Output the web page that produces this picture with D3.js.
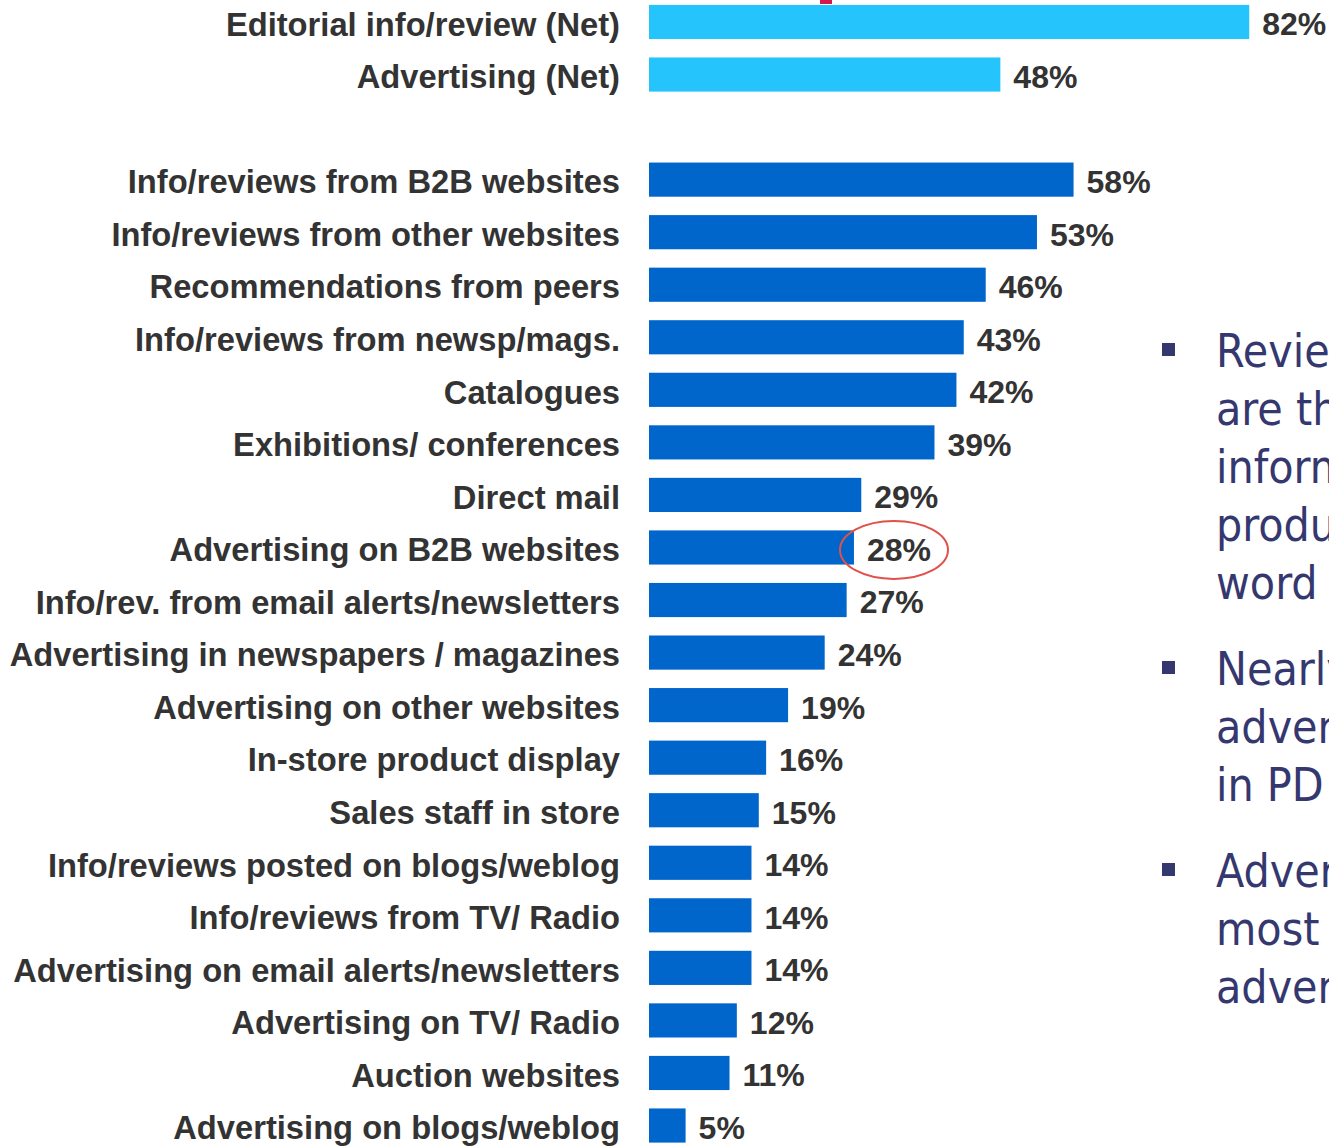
<!DOCTYPE html>
<html>
<head>
<meta charset="utf-8">
<script src="https://cdn.jsdelivr.net/npm/d3@7"></script>
<style>
  html, body { margin: 0; padding: 0; background: #fff; }
  svg { display: block; overflow: hidden; }
</style>
</head>
<body>
<svg id="chart" width="1329" height="1146"></svg>
<script>
// Net totals shown first, then the individual sources
const netCategories = ["Editorial info/review (Net)", "Advertising (Net)"];
const netValues = [82, 48];

const sourceCategories = [
  "Info/reviews from B2B websites",
  "Info/reviews from other websites",
  "Recommendations from peers",
  "Info/reviews from newsp/mags.",
  "Catalogues",
  "Exhibitions/ conferences",
  "Direct mail",
  "Advertising on B2B websites",
  "Info/rev. from email alerts/newsletters",
  "Advertising in newspapers / magazines",
  "Advertising on other websites",
  "In-store product display",
  "Sales staff in store",
  "Info/reviews posted on blogs/weblog",
  "Info/reviews from TV/ Radio",
  "Advertising on email alerts/newsletters",
  "Advertising on TV/ Radio",
  "Auction websites",
  "Advertising on blogs/weblog"
];
const sourceValues = [58, 53, 46, 43, 42, 39, 29, 28, 27, 24, 19, 16, 15, 14, 14, 14, 12, 11, 5];

const highlighted = "Advertising on B2B websites";

const bulletPoints = [
  ["Reviews and recommendations", "are the most important", "information sources for", "product decisions, after", "word of mouth"],
  ["Nearly a third notice", "advertising on B2B websites", "in PD purchasing"],
  ["Advertising is still the", "most trusted form of", "advertising"]
];

const rows = [
  ...netCategories.map((c, i) => ({ key: c, value: netValues[i], net: true })),
  { key: "__gap__", value: null },
  ...sourceCategories.map((c, i) => ({ key: c, value: sourceValues[i], net: false }))
];
const data = rows.filter(d => d.value !== null);

const svg = d3.select("#chart");
const labelFont = "'Liberation Sans', Arial, Helvetica, sans-serif";

const step = 52.55;
const y = d3.scaleBand()
  .domain(rows.map(d => d.key))
  .range([-4.3, -4.3 + step * rows.length])
  .paddingInner(0.35)
  .paddingOuter(0.175);

const x = d3.scaleLinear().domain([0, 100]).range([649, 649 + 732]);

// small red mark of the slide title above the chart
svg.append("rect")
  .attr("x", 820).attr("y", 0).attr("width", 12).attr("height", 4)
  .attr("fill", "#d6174b");

// bars
svg.append("g").selectAll("rect")
  .data(data)
  .join("rect")
  .attr("x", x(0))
  .attr("y", d => y(d.key))
  .attr("width", d => x(d.value) - x(0))
  .attr("height", y.bandwidth())
  .attr("fill", d => d.net ? "#26c4fc" : "#0066cc");

// category labels
svg.append("g").selectAll("text")
  .data(data)
  .join("text")
  .attr("x", 620)
  .attr("y", d => y(d.key) + y.bandwidth() / 2)
  .attr("dy", "0.42em")
  .attr("text-anchor", "end")
  .attr("font-family", labelFont)
  .attr("font-weight", "bold")
  .attr("font-size", 32.7)
  .attr("fill", "#333333")
  .text(d => d.key);

// value labels
const valueLabels = svg.append("g").selectAll("text")
  .data(data)
  .join("text")
  .attr("x", d => x(d.value) + 13)
  .attr("y", d => y(d.key) + y.bandwidth() / 2)
  .attr("dy", "0.42em")
  .attr("font-family", labelFont)
  .attr("font-weight", "bold")
  .attr("font-size", 32)
  .attr("fill", "#333333")
  .text(d => d.value + "%");

// ring around the highlighted value
valueLabels.filter(d => d.key === highlighted).each(function () {
  const b = this.getBBox();
  svg.append("ellipse")
    .attr("cx", b.x + b.width / 2 - 5)
    .attr("cy", b.y + b.height / 2)
    .attr("rx", 54)
    .attr("ry", 29)
    .attr("fill", "none")
    .attr("stroke", "#e0514a")
    .attr("stroke-width", 2);
});

// commentary bullets on the right
const textX = 1216, bulletX = 1162;
const lineGap = 58, bulletGap = 86;
let baseline = 367;
const notes = svg.append("g")
  .attr("font-family", "'DejaVu Sans Condensed', 'DejaVu Sans', Verdana, sans-serif")
  .attr("font-stretch", "condensed")
  .attr("font-size", 46)
  .attr("fill", "#35386f");
bulletPoints.forEach((lines, i) => {
  if (i > 0) baseline += bulletGap;
  notes.append("rect")
    .attr("x", bulletX).attr("y", baseline - 24)
    .attr("width", 13).attr("height", 13)
    .attr("fill", "#35386f");
  lines.forEach((line, j) => {
    if (j > 0) baseline += lineGap;
    notes.append("text").attr("x", textX).attr("y", baseline).text(line);
  });
});
</script>
</body>
</html>
